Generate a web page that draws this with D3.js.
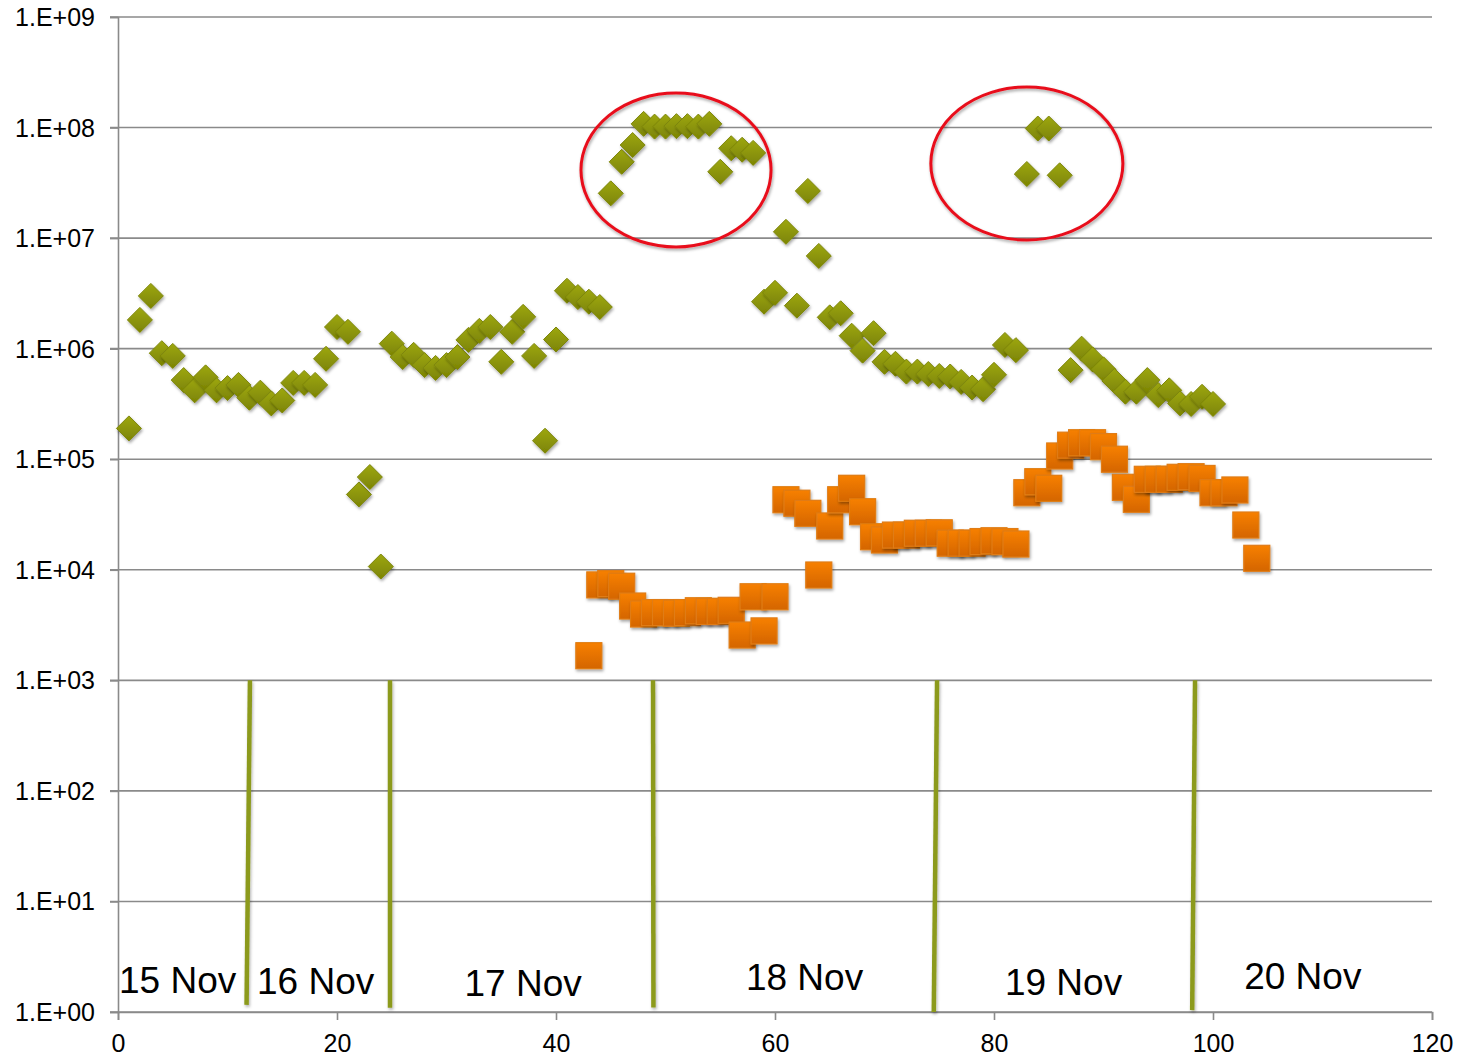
<!DOCTYPE html>
<html>
<head>
<meta charset="utf-8">
<script src="https://cdn.jsdelivr.net/npm/d3@7"></script>
<style>
  body { margin: 0; background: #fff; }
  text { font-family: "Liberation Sans", Arial, sans-serif; }
</style>
</head>
<body>
<div id="chart-container"></div>
<script>
// green diamonds, x = 1..100
const greenX = d3.range(1, 101)
const greenY = [
  1.9e5, 1.82e6, 3.0e6, 9.1e5, 8.6e5, 5.2e5, 4.2e5, 5.5e5, 4.2e5, 4.4e5,
  4.7e5, 3.6e5, 4.0e5, 3.2e5, 3.4e5, 4.9e5, 4.9e5, 4.7e5, 8.1e5, 1.57e6,
  1.42e6, 4.8e4, 6.9e4, 1.07e4, 1.11e6, 8.4e5, 8.8e5, 7.1e5, 6.7e5, 7.1e5,
  8.4e5, 1.2e6, 1.45e6, 1.57e6, 7.6e5, 1.42e6, 1.94e6, 8.6e5, 1.47e5, 1.21e6,
  3.34e6, 2.93e6, 2.66e6, 2.38e6, 2.54e7, 4.9e7, 6.95e7, 1.08e8, 1.02e8, 1.02e8,
  1.03e8, 1.03e8, 1.02e8, 1.08e8, 3.98e7, 6.5e7, 6.3e7, 5.9e7, 2.66e6, 3.2e6,
  1.14e7, 2.45e6, 2.67e7, 6.9e6, 1.92e6, 2.09e6, 1.31e6, 9.6e5, 1.38e6, 7.6e5,
  7.3e5, 6.2e5, 6.2e5, 5.9e5, 5.66e5, 5.6e5, 5.0e5, 4.45e5, 4.3e5, 5.8e5,
  1.08e6, 9.7e5, 3.8e7, 9.8e7, 9.8e7, 3.7e7, 6.4e5, 1.0e6, 8.0e5, 6.5e5,
  5.1e5, 4.08e5, 4.08e5, 5.2e5, 3.8e5, 4.2e5, 3.2e5, 3.16e5, 3.67e5, 3.16e5
]

// orange squares, x = 43..104
const orangeX = d3.range(43, 105)
const orangeY = [
  1.67e3, 7.3e3, 7.5e3, 7.1e3, 4.7e3, 3.98e3, 4.1e3, 4.1e3, 4.05e3, 4.1e3,
  4.26e3, 4.2e3, 4.2e3, 4.3e3, 2.57e3, 5.7e3, 2.8e3, 5.7e3, 4.3e4, 4.0e4,
  3.24e4, 8.97e3, 2.49e4, 4.3e4, 5.46e4, 3.35e4, 1.99e4, 1.86e4, 2.06e4, 2.06e4,
  2.14e4, 2.14e4, 2.16e4, 1.74e4, 1.74e4, 1.74e4, 1.8e4, 1.83e4, 1.8e4, 1.71e4,
  4.98e4, 6.26e4, 5.46e4, 1.07e5, 1.34e5, 1.41e5, 1.41e5, 1.3e5, 1.0e5, 5.57e4,
  4.34e4, 6.58e4, 6.58e4, 6.58e4, 6.86e4, 6.95e4, 6.7e4, 4.98e4, 4.98e4, 5.27e4,
  2.54e4, 1.27e4
]

// day dividers (top at 1e3, bottom near 1e0)
const dividerTopX = [12.05, 24.84, 48.86, 74.8, 98.36]
const dividerBotX = [11.74, 24.84, 48.9, 74.5, 98.1]
const dividerBotY = [1.16, 1.09, 1.1, 1.0, 1.04]

// day labels
const dayLabels = ["15 Nov", "16 Nov", "17 Nov", "18 Nov", "19 Nov", "20 Nov"]
const dayLabelX = [5.45, 18.05, 37.0, 62.7, 86.35, 108.2]
const dayLabelY = [1.49, 1.47, 1.4, 1.58, 1.42, 1.61]

// red annotation ellipses (centre x, centre exponent, x radius, decades radius)
const ringX = [50.96, 83.0]
const ringExp = [7.616, 7.675]
const ringRx = [8.68, 8.77]
const ringRy = [0.696, 0.692]

const xTicks = [0, 20, 40, 60, 80, 100, 120]
const yTicks = d3.range(0, 10).map(e => Math.pow(10, e))

const W = 1458, H = 1058
const svg = d3.select("#chart-container")
  .append("svg")
  .attr("width", W)
  .attr("height", H)

const x = d3.scaleLinear().domain([0, 120]).range([118, 1432])
const y = d3.scaleLog().domain([1, 1e9]).range([1012, 17])

const defs = svg.append("defs")
// shadow for markers / rings (bounding box based)
const shadow = defs.append("filter").attr("id", "shadow")
  .attr("x", "-40%").attr("y", "-40%").attr("width", "190%").attr("height", "190%")
shadow.append("feDropShadow")
  .attr("dx", 1).attr("dy", 2).attr("stdDeviation", 1.6)
  .attr("flood-color", "#000").attr("flood-opacity", 0.35)
// shadow for the thin divider lines (zero-width bbox, so user space)
const lineShadow = defs.append("filter").attr("id", "lineShadow")
  .attr("filterUnits", "userSpaceOnUse")
  .attr("x", 0).attr("y", 0).attr("width", W).attr("height", H)
lineShadow.append("feDropShadow")
  .attr("dx", 1).attr("dy", 2).attr("stdDeviation", 1.6)
  .attr("flood-color", "#000").attr("flood-opacity", 0.3)

const gGreen = defs.append("linearGradient").attr("id", "gGreen")
  .attr("x1", 0).attr("y1", 0).attr("x2", 0).attr("y2", 1)
gGreen.append("stop").attr("offset", "0%").attr("stop-color", "#9da712")
gGreen.append("stop").attr("offset", "100%").attr("stop-color", "#7c8404")

const gOrange = defs.append("linearGradient").attr("id", "gOrange")
  .attr("x1", 0).attr("y1", 0).attr("x2", 0).attr("y2", 1)
gOrange.append("stop").attr("offset", "0%").attr("stop-color", "#f78000")
gOrange.append("stop").attr("offset", "100%").attr("stop-color", "#d46500")

// gridlines
svg.append("g")
  .selectAll("line")
  .data(yTicks)
  .enter().append("line")
  .attr("x1", 110).attr("x2", x(120))
  .attr("y1", d => y(d)).attr("y2", d => y(d))
  .attr("stroke", "#8a8a8a")
  .attr("stroke-width", 1.6)

// y axis
const yAxis = svg.append("g")
  .attr("transform", `translate(${x(0)},0)`)
  .call(d3.axisLeft(y).tickValues(yTicks).tickSize(8).tickPadding(15)
    .tickFormat(d => "1.E+" + String(Math.round(Math.log10(d))).padStart(2, "0")))
yAxis.select(".domain").attr("stroke", "#8a8a8a").attr("stroke-width", 1.6)
yAxis.selectAll(".tick line").attr("stroke", "#8a8a8a").attr("stroke-width", 1.6)
yAxis.selectAll("text")
  .style("font-size", "25px")
  .attr("dy", "0.34em")
  .attr("fill", "#000")

// x axis
const xAxis = svg.append("g")
  .attr("transform", `translate(0,${y(1)})`)
  .call(d3.axisBottom(x).tickValues(xTicks).tickSize(8).tickPadding(14))
xAxis.select(".domain").attr("stroke", "#8a8a8a").attr("stroke-width", 1.6)
xAxis.selectAll(".tick line").attr("stroke", "#8a8a8a").attr("stroke-width", 1.6)
xAxis.selectAll("text")
  .style("font-size", "25px")
  .attr("fill", "#000")

// day dividers
const divLine = d3.line().x(d => x(d[0])).y(d => y(d[1]))
svg.append("g")
  .selectAll("path")
  .data(dividerTopX.map((t, i) => [[t, 1e3], [dividerBotX[i], dividerBotY[i]]]))
  .enter().append("path")
  .attr("d", divLine)
  .attr("fill", "none")
  .attr("stroke", "#8c9a1c")
  .attr("stroke-width", 4.5)
  .attr("filter", "url(#lineShadow)")

// orange squares
const sq = 26
svg.append("g")
  .selectAll("rect")
  .data(orangeX.map((v, i) => ({ x: v, y: orangeY[i] })))
  .enter().append("rect")
  .attr("x", d => x(d.x) - sq / 2)
  .attr("y", d => y(d.y) - sq / 2)
  .attr("width", sq)
  .attr("height", sq)
  .attr("fill", "url(#gOrange)")
  .attr("stroke", "#e07c14")
  .attr("stroke-width", 1.2)
  .attr("filter", "url(#shadow)")

// green diamonds
const dm = 12.5
svg.append("g")
  .selectAll("path")
  .data(greenX.map((v, i) => ({ x: v, y: greenY[i] })))
  .enter().append("path")
  .attr("transform", d => `translate(${x(d.x)},${y(d.y)})`)
  .attr("d", `M0,${-dm}L${dm},0L0,${dm}L${-dm},0Z`)
  .attr("fill", "url(#gGreen)")
  .attr("stroke", "#7d8608")
  .attr("stroke-width", 1)
  .attr("filter", "url(#shadow)")

// red rings
svg.append("g")
  .selectAll("ellipse")
  .data(ringX.map((v, i) => ({ x: v, e: ringExp[i], rx: ringRx[i], ry: ringRy[i] })))
  .enter().append("ellipse")
  .attr("cx", d => x(d.x))
  .attr("cy", d => y(Math.pow(10, d.e)))
  .attr("rx", d => x(d.rx) - x(0))
  .attr("ry", d => y(1) - y(Math.pow(10, d.ry)))
  .attr("fill", "none")
  .attr("stroke", "#e8101a")
  .attr("stroke-width", 3)
  .attr("filter", "url(#shadow)")

// day labels
svg.append("g")
  .selectAll("text")
  .data(dayLabels)
  .enter().append("text")
  .attr("x", (d, i) => x(dayLabelX[i]))
  .attr("y", (d, i) => y(dayLabelY[i]))
  .attr("text-anchor", "middle")
  .style("font-size", "37px")
  .attr("fill", "#000")
  .text(d => d)
</script>
</body>
</html>
